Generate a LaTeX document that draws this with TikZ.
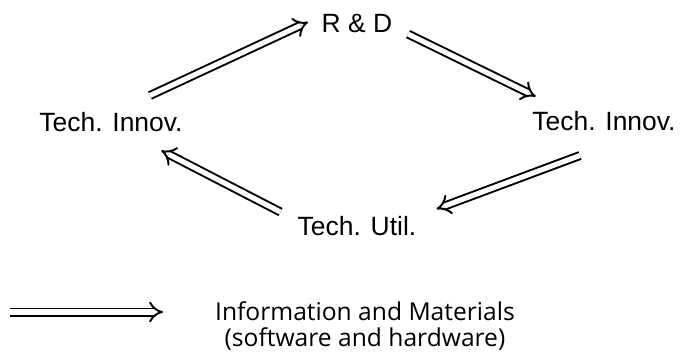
\documentclass[tikz,border=0pt]{standalone}
\usepackage{fontspec}
\setmainfont{Liberation Sans}
\newfontfamily\legendfont{Open Sans}
\usetikzlibrary{arrows.meta}
\tikzset{
  stage/.style={inner sep=0pt, font=\fontsize{18.8}{20}\selectfont},
  flow/.style={double, double distance=3.6pt, line width=1.4pt, -{Implies}},
  keytext/.style={inner sep=0pt, align=center, font=\legendfont\fontsize{17.5}{18.5}\selectfont}
}
\begin{document}
\begin{tikzpicture}[x=0.025cm, y=-0.025cm]
        \useasboundingbox (0, 0) rectangle (680, 358);

        \node[stage] (rd) at (357, 23) {R \& D};
        \node[stage] (li) at (111, 122) {Tech. Innov.};
        \node[stage] (ri) at (604, 121) {Tech. Innov.};
        \node[stage] (tu) at (357, 226) {Tech. Util.};

        \draw[flow] ([shift={(39, -16.5)}]li.north) -- ([shift={(-13.5, -1)}]rd.west);
        \draw[flow] ([shift={(15.5, 1.5)}]rd.south east) -- ([shift={(3.5, -14.5)}]ri.north west);
        \draw[flow] ([shift={(-24, 24.5)}]ri.south) -- ([shift={(20, -7)}]tu.north east);
        \draw[flow] ([shift={(-17, -4)}]tu.north west) -- ([shift={(-21.5, 18.5)}]li.south east);

        \coordinate (key-a) at (10, 312);
        \coordinate (key-b) at (163, 312);
        \draw[flow] (key-a) -- (key-b);
        \node[keytext] (key) at (365, 326.5) {Information and Materials\\(software and hardware)};
      \end{tikzpicture}
\end{document}
